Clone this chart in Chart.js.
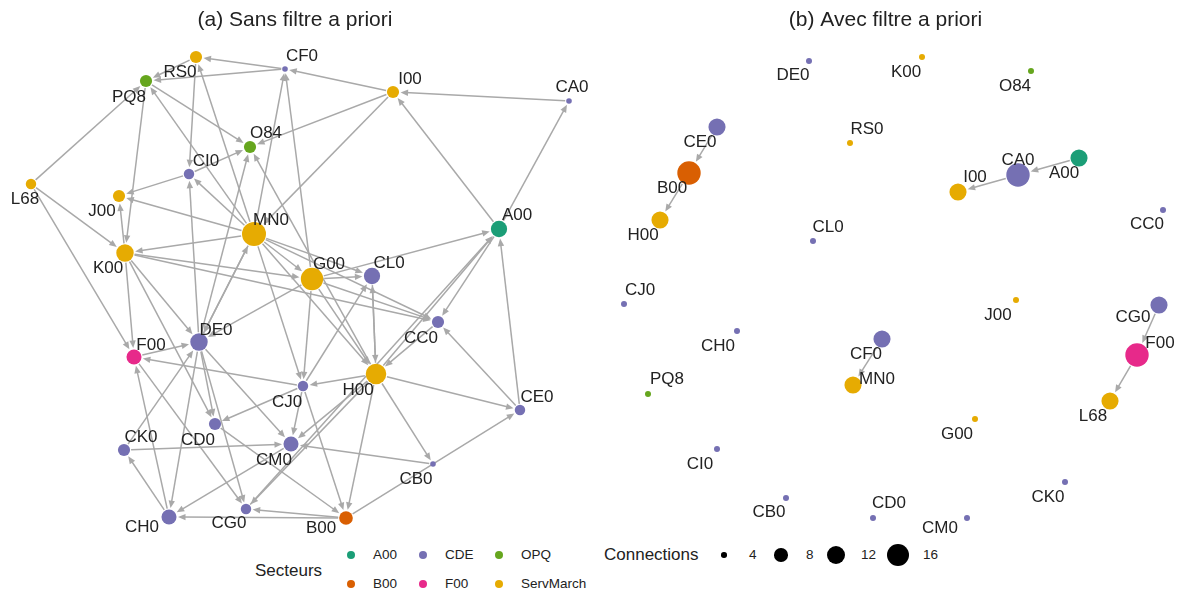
<!DOCTYPE html>
<html>
<head>
<meta charset="utf-8">
<script src="https://cdn.jsdelivr.net/npm/chart.js@4.4.1/dist/chart.umd.min.js"></script>
<style>
  body { margin: 0; background: #fff; width: 1181px; height: 592px; overflow: hidden; position: relative;
         font-family: "Liberation Sans", Arial, sans-serif; color: #222; }
  canvas { position: absolute; top: 0; }
  #netA { left: 0; }
  #netB { left: 590px; }
  .lg { position: absolute; white-space: nowrap; line-height: 1; }
  .dot { position: absolute; border-radius: 50%; }
</style>
</head>
<body>
<canvas id="netA" width="590" height="540"></canvas>
<canvas id="netB" width="591" height="540"></canvas>
<div id="legend"></div>
<script>
// --- Données du réseau ---
const nodes   = ['RS0','PQ8','CF0','I00','CA0','O84','CI0','L68','J00','MN0','K00','A00','G00','CL0','CC0','DE0','F00','H00','CJ0','CE0','CD0','CM0','CK0','CB0','CH0','CG0','B00'];
const secteur = ['ServMarch','OPQ','CDE','ServMarch','CDE','OPQ','CDE','ServMarch','ServMarch','ServMarch','ServMarch','A00','ServMarch','CDE','CDE','CDE','F00','ServMarch','CDE','CDE','CDE','CDE','CDE','CDE','CDE','CDE','B00'];

// (a) sans filtre
const xA    = [196,146,285,393,569,250,189,31,119,254,125,499,312,372,438,199,134,376,303,520,215,291,124,433,169,246,346];
const yA    = [57,81,69,92,101,147,174,184,196,234,253,229,279,276,322,342,357,374,386,410,424,444,450,464,517,509,518];
const connA = [7,7,4,7,4,7,6,6,7,18,11,10,16,10,7,11,9,14,6,6,7,9,7,4,9,6,8];
const edgesA = [
  ['CF0','RS0'],['CF0','PQ8'],['RS0','PQ8'],['I00','CF0'],['CA0','I00'],['A00','CA0'],['A00','I00'],['I00','O84'],['I00','MN0'],
  ['MN0','CF0'],['G00','CF0'],['MN0','RS0'],['RS0','CI0'],['DE0','CI0'],['MN0','PQ8'],['PQ8','O84'],['PQ8','K00'],['L68','PQ8'],
  ['DE0','O84'],['H00','O84'],['CI0','O84'],['CI0','J00'],['MN0','CI0'],['MN0','J00'],['K00','J00'],['MN0','K00'],['K00','G00'],
  ['L68','K00'],['L68','F00'],['K00','F00'],['K00','DE0'],['K00','CD0'],['F00','DE0'],['CJ0','F00'],['CH0','F00'],['F00','CG0'],
  ['CK0','DE0'],['CK0','CM0'],['CH0','CK0'],['DE0','CH0'],['CM0','CH0'],['B00','CH0'],['B00','CG0'],['H00','CG0'],['DE0','CD0'],
  ['DE0','CG0'],['CD0','B00'],['CJ0','CD0'],['CJ0','CM0'],['H00','CM0'],['CB0','CM0'],['CJ0','B00'],['H00','B00'],['B00','CE0'],
  ['H00','CB0'],['H00','CE0'],['CE0','CC0'],['CE0','A00'],['A00','CC0'],['G00','A00'],['H00','A00'],['CG0','A00'],['CC0','H00'],
  ['G00','CL0'],['MN0','CL0'],['H00','CL0'],['CL0','H00'],['CJ0','CL0'],['MN0','G00'],['MN0','H00'],['MN0','CC0'],['G00','CC0'],
  ['G00','H00'],['H00','CJ0'],['G00','CJ0'],['G00','DE0'],['MN0','DE0'],['DE0','MN0'],['DE0','CM0'],['MN0','CJ0'],['K00','CC0']
];

// (b) avec filtre
const xB    = [850,648,882,958,1018,1031,717,1110,1016,853,922,1079,975,813,1163,809,1137,660,624,717,873,967,1065,786,737,1159,689];
const yB    = [143,394,339,192,175,71,449,401,300,385,57,158,419,241,210,61,355,220,304,127,518,518,482,498,331,305,173];
const connB = [0,0,1,1,2,0,0,1,0,1,0,1,0,0,0,0,2,1,0,1,0,0,0,0,0,1,2];
const edgesB = [['CE0','B00'],['B00','H00'],['A00','CA0'],['CA0','I00'],['CF0','MN0'],['CG0','F00'],['F00','L68']];

// Légende
const secteurs = ['A00','CDE','OPQ','B00','F00','ServMarch'];
const tailles  = [4, 8, 12, 16];

const couleurs = { A00: '#1b9e77', B00: '#d95f02', CDE: '#7570b3', OPQ: '#66a61e', F00: '#e7298a', ServMarch: '#e6ab02' };

// rayon (aire proportionnelle aux connexions)
const rayonA = c => Math.sqrt(7.84 + 9.73 * (c - 4));
const rayonB = c => Math.sqrt(9 + 64 * c);

// décalage des étiquettes (px)
const etiqA = {
  RS0:[-16,15], PQ8:[-17,16], CF0:[17,-13], I00:[17,-13], CA0:[3,-14], O84:[16,-14], CI0:[17,-13], L68:[-6,15],
  J00:[-17,15], MN0:[17,-14], K00:[-17,15], A00:[18,-14], G00:[17,-15], CL0:[17,-13], CC0:[-17,16], DE0:[17,-12],
  F00:[17,-12], H00:[-18,16], CJ0:[-16,16], CE0:[17,-13], CD0:[-17,16], CM0:[-17,16], CK0:[17,-13], CB0:[-17,15],
  CH0:[-27,10], CG0:[-17,14], B00:[-25,10]
};
const etiqB = {
  DE0:[-16,14], K00:[-16,15], O84:[-16,15], CE0:[-17,15], RS0:[17,-14], B00:[-17,15], CA0:[0,-15], A00:[-15,15],
  I00:[17,-15], H00:[-17,15], CL0:[15,-14], CC0:[-16,14], CJ0:[16,-14], J00:[-18,15], CG0:[-26,12], CH0:[-19,15],
  CF0:[-16,15], F00:[23,-12], PQ8:[19,-15], MN0:[24,-6], L68:[-17,15], G00:[-18,15], CI0:[-17,15], CK0:[-17,15],
  CB0:[-17,14], CD0:[16,-15], CM0:[-27,10]
};

const TITRE_TAILLE = 21;
const TITRE_H = 8 + TITRE_TAILLE * 1.2 + 8;

// arêtes avec flèches, dessinées sous les nœuds
const aretesPlugin = {
  id: 'aretes',
  beforeDatasetsDraw(chart, args, opts) {
    const { ctx, scales } = chart;
    const idx = n => nodes.indexOf(n);
    ctx.save();
    ctx.strokeStyle = '#a9a9a9';
    ctx.fillStyle = '#a9a9a9';
    ctx.lineWidth = 1.5;
    opts.edges.forEach(([a, b]) => {
      const i = idx(a), j = idx(b);
      const x1 = scales.x.getPixelForValue(opts.xs[i]), y1 = scales.y.getPixelForValue(opts.ys[i]);
      const x2 = scales.x.getPixelForValue(opts.xs[j]), y2 = scales.y.getPixelForValue(opts.ys[j]);
      const r1 = opts.rayon(opts.conn[i]), r2 = opts.rayon(opts.conn[j]);
      const len = Math.hypot(x2 - x1, y2 - y1);
      const ux = (x2 - x1) / len, uy = (y2 - y1) / len;
      const sx = x1 + ux * (r1 + 1), sy = y1 + uy * (r1 + 1);
      const ex = x2 - ux * (r2 + 1.5), ey = y2 - uy * (r2 + 1.5);
      const al = 7.5, aw = 3.2;
      ctx.beginPath();
      ctx.moveTo(sx, sy);
      ctx.lineTo(ex - ux * al * 0.6, ey - uy * al * 0.6);
      ctx.stroke();
      ctx.beginPath();
      ctx.moveTo(ex, ey);
      ctx.lineTo(ex - ux * al - uy * aw, ey - uy * al + ux * aw);
      ctx.lineTo(ex - ux * al + uy * aw, ey - uy * al - ux * aw);
      ctx.closePath();
      ctx.fill();
    });
    ctx.restore();
  }
};

// noms des nœuds
const etiquettesPlugin = {
  id: 'etiquettes',
  afterDatasetsDraw(chart, args, opts) {
    const { ctx, scales } = chart;
    ctx.save();
    ctx.font = '17px "Liberation Sans", Arial, sans-serif';
    ctx.fillStyle = '#222';
    ctx.textAlign = 'center';
    ctx.textBaseline = 'middle';
    nodes.forEach((n, i) => {
      const d = opts.pos[n];
      ctx.fillText(n, scales.x.getPixelForValue(opts.xs[i]) + d[0], scales.y.getPixelForValue(opts.ys[i]) + d[1]);
    });
    ctx.restore();
  }
};

function reseau(id, titre, xs, ys, conn, edges, rayon, pos, xmin, xmax) {
  return new Chart(document.getElementById(id), {
    type: 'scatter',
    data: {
      datasets: [{
        data: nodes.map((n, i) => ({ x: xs[i], y: ys[i] })),
        pointRadius: conn.map(rayon),
        pointHoverRadius: conn.map(rayon),
        pointBackgroundColor: secteur.map(s => couleurs[s]),
        pointBorderWidth: 0,
        clip: false
      }]
    },
    options: {
      responsive: false,
      animation: false,
      events: [],
      layout: { padding: 0, autoPadding: false },
      scales: {
        x: { type: 'linear', display: false, min: xmin, max: xmax },
        y: { type: 'linear', display: false, reverse: true, min: TITRE_H, max: 540 }
      },
      plugins: {
        legend: { display: false },
        tooltip: { enabled: false },
        title: {
          display: true, text: titre, color: '#222',
          font: { family: '"Liberation Sans", Arial, sans-serif', size: TITRE_TAILLE, weight: 'normal', lineHeight: 1.2 },
          padding: { top: 8, bottom: 8 }
        },
        aretes: { edges, xs, ys, conn, rayon },
        etiquettes: { xs, ys, pos }
      }
    },
    plugins: [aretesPlugin, etiquettesPlugin]
  });
}

reseau('netA', '(a) Sans filtre a priori', xA, yA, connA, edgesA, rayonA, etiqA, 0, 590);
reseau('netB', '(b) Avec filtre a priori', xB, yB, connB, edgesB, rayonB, etiqB, 590, 1181);

// --- Légende ---
const legend = document.getElementById('legend');
function ajoute(html, css) {
  const el = document.createElement('div');
  el.className = css.cls || 'lg';
  el.innerHTML = html;
  Object.assign(el.style, css.style);
  legend.appendChild(el);
}
ajoute('Secteurs', { style: { left: '255px', top: '562px', fontSize: '17px' } });
const colX = [351, 423, 499], rowY = [555, 584];
secteurs.forEach((s, k) => {
  const cx = colX[k % 3], cy = rowY[Math.floor(k / 3)];
  ajoute('', { cls: 'dot', style: { left: (cx - 4) + 'px', top: (cy - 4) + 'px', width: '8px', height: '8px', background: couleurs[s] } });
  ajoute(s, { style: { left: (cx + 22) + 'px', top: (cy - 7) + 'px', fontSize: '13.5px' } });
});
ajoute('Connections', { style: { left: '604px', top: '546px', fontSize: '17px' } });
const tailleX = [724, 781, 836, 898];
tailles.forEach((t, k) => {
  const r = rayonA(t), cx = tailleX[k];
  ajoute('', { cls: 'dot', style: { left: (cx - r) + 'px', top: (555 - r) + 'px', width: 2 * r + 'px', height: 2 * r + 'px', background: '#000' } });
  ajoute(String(t), { style: { left: (cx + 25) + 'px', top: '548px', fontSize: '13.5px' } });
});
</script>
</body>
</html>
